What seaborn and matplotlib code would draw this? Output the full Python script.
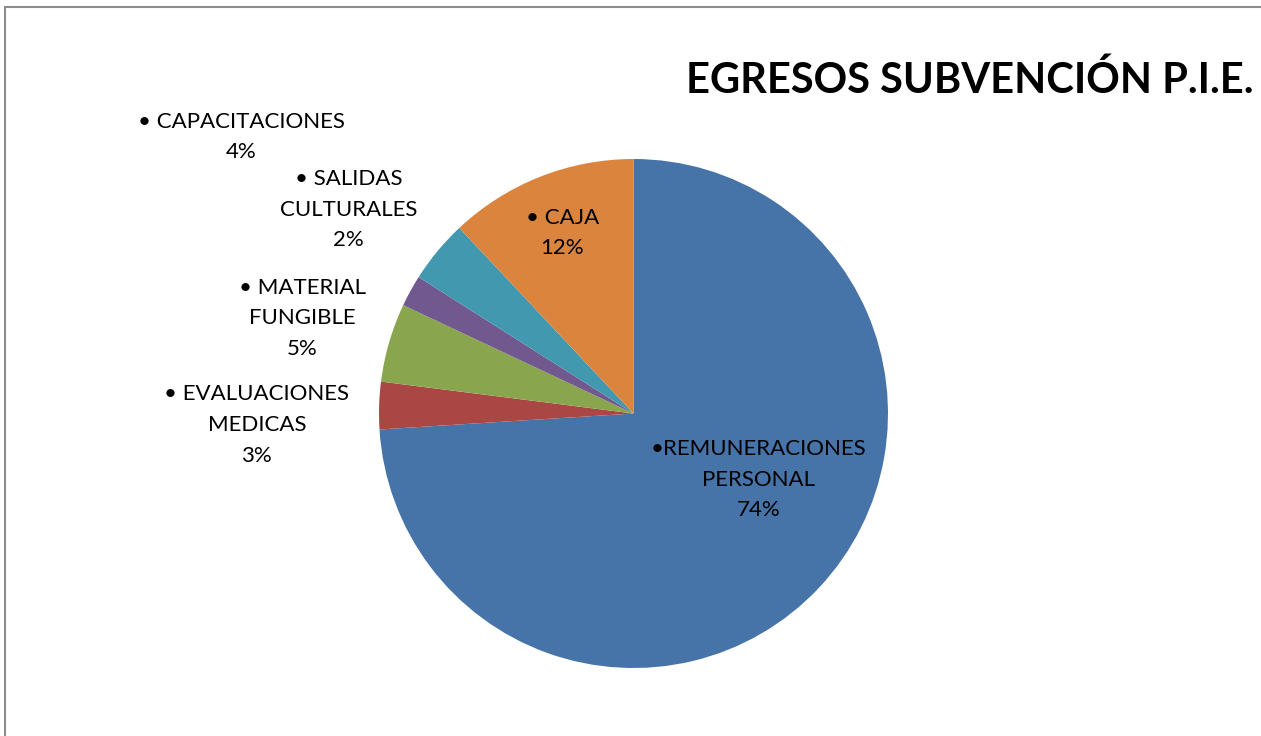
import matplotlib
matplotlib.use("Agg")
import matplotlib.pyplot as plt
from matplotlib.lines import Line2D
import seaborn as sns

# datos del grafico
categorias = ["REMUNERACIONES\nPERSONAL", "EVALUACIONES\nMEDICAS", "MATERIAL\nFUNGIBLE",
              "SALIDAS\nCULTURALES", "CAPACITACIONES", "CAJA"]
porcentajes = [74, 3, 5, 2, 4, 12]
colores = ["#4673A8", "#AA4744", "#89A54E", "#71588F", "#4198AF", "#DB843D"]
titulo = "EGRESOS SUBVENCIÓN P.I.E."

# posicion de cada etiqueta (en radios del pastel)
pos_etiquetas = [(0.49, -0.26), (-1.48, -0.045), (-1.30, 0.375),
                 (-1.12, 0.80), (-1.54, 1.086), (-0.28, 0.71)]

sns.set_theme(style="white")
plt.rcParams['font.family'] = ['Lato', 'DejaVu Sans']

fig = plt.figure(figsize=(12.61, 7.36), dpi=100)
ax = fig.add_axes([0, 0, 1, 1])

ax.pie(porcentajes, colors=colores, startangle=90, counterclock=False,
       radius=1.0, wedgeprops=dict(linewidth=0))

for cat, pct, (x, y) in zip(categorias, porcentajes, pos_etiquetas):
    bullet = "•" if cat.startswith("REMUN") else "• "
    ax.text(x, y, f"{bullet}{cat}\n{pct}%", ha="center", va="center",
            fontsize=16, linespacing=1.66, color="black")

# escala: 254.5 px por unidad, centro en (633.5, 413.5)
ax.set_xlim(-633.5 / 254.5, (1261 - 633.5) / 254.5)
ax.set_ylim(-(736 - 413.5) / 254.5, 413.5 / 254.5)
ax.set_aspect("auto")
ax.axis("off")

fig.text(1253 / 1261, 1 - 80 / 736, titulo, ha="right", va="center",
         fontsize=30, fontweight="bold", color="black")

# borde gris (izquierda y arriba)
fig.add_artist(Line2D([5 / 1261, 5 / 1261], [0, 1 - 7 / 736], color="#8c8c8c", lw=1.5,
                      transform=fig.transFigure))
fig.add_artist(Line2D([5 / 1261, 1], [1 - 7 / 736, 1 - 7 / 736], color="#8c8c8c", lw=1.5,
                      transform=fig.transFigure))

fig.savefig("out.png", dpi=100)
